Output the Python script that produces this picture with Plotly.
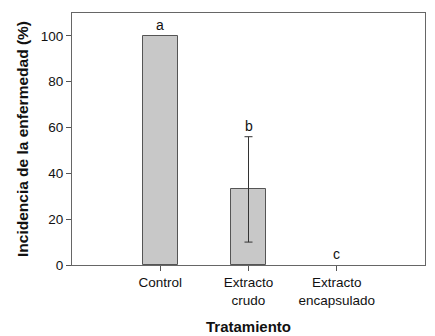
import plotly.graph_objects as go

categories = ["Control", "Extracto<br>crudo", "Extracto<br>encapsulado"]
values = [100, 33, 0]
errors = [0, 23, 0]
letters = ["a", "b", "c"]
y_ticks = [0, 20, 40, 60, 80, 100]

xpos = list(range(len(categories)))
font = "Liberation Sans, Arial, sans-serif"

fig = go.Figure()
fig.add_trace(go.Bar(
    x=xpos, y=values, width=0.4,
    marker=dict(color="#c8c8c8",
                line=dict(color="#555555", width=[1 if v > 0 else 0 for v in values])),
    showlegend=False,
))

ex = [x for x, e in zip(xpos, errors) if e > 0]
ey = [v for v, e in zip(values, errors) if e > 0]
ee = [e for e in errors if e > 0]
fig.add_trace(go.Scatter(
    x=ex, y=ey, mode="markers", marker=dict(opacity=0, size=1),
    error_y=dict(type="data", array=ee, visible=True, color="#333333",
                 thickness=1, width=4),
    showlegend=False, hoverinfo="skip",
))

for x, v, e, t in zip(xpos, values, errors, letters):
    fig.add_annotation(x=x, y=v + e, text=t, showarrow=False,
                       yanchor="bottom", yshift=1,
                       font=dict(family=font, size=14, color="#111111"))

fig.update_layout(
    width=427, height=328,
    margin=dict(l=64, r=10, t=4, b=69),
    paper_bgcolor="white", plot_bgcolor="white",
    font=dict(family=font, size=13.5, color="#111111"),
    bargap=0,
)
fig.update_xaxes(
    range=[-1, 3], tickmode="array", tickvals=xpos, ticktext=categories,
    ticks="outside", ticklen=5, tickcolor="#555555",
    showline=True, linecolor="#666666", linewidth=1, mirror=True,
    showgrid=False, zeroline=False,
    title=dict(text="<b>Tratamiento</b>", font=dict(size=15), standoff=14),
)
fig.update_yaxes(
    range=[0, 110], tickmode="array", tickvals=y_ticks,
    ticks="outside", ticklen=5, tickcolor="#555555",
    showline=True, linecolor="#666666", linewidth=1, mirror=True,
    showgrid=False, zeroline=False,
    title=dict(text="<b>Incidencia de la enfermedad (%)</b>", font=dict(size=15.5), standoff=8),
)

fig.write_html("out.html")
